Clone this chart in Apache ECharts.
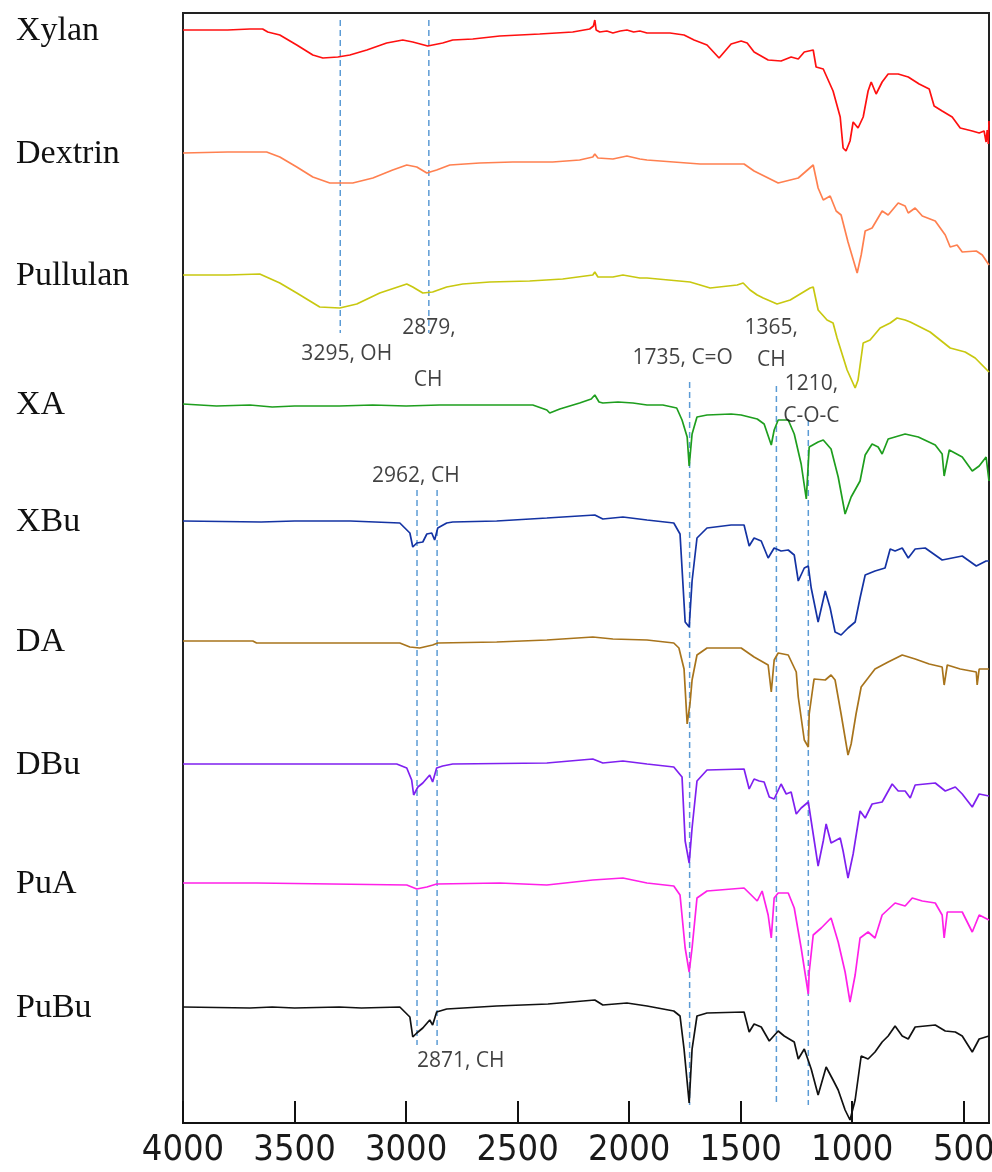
<!DOCTYPE html>
<html><head><meta charset="utf-8">
<script src="https://cdn.jsdelivr.net/npm/echarts@6/dist/echarts.min.js"></script>
<style>html,body{margin:0;padding:0;background:#fff}#c{width:992px;height:1172px}</style>
</head><body><div id="c"></div>
<script>
// ---- data (wavenumber cm-1, relative transmittance deflection in a.u.) ----
const sampleNames = ['Xylan','Dextrin','Pullulan','XA','XBu','DA','DBu','PuA','PuBu'];
const sampleColors = ['#FF1010','#FF8050','#C8C810','#1E9E1E','#1433A3','#A8741C','#7F20F0','#FF20E8','#111111'];
const offsets = [1093, 970, 848, 719, 602, 482, 359, 240, 116];
const tickLabels = [4000, 3500, 3000, 2500, 2000, 1500, 1000, 500];

const xylan = [[4000,0],[3800,0],[3700,1],[3643,1],[3620,-2],[3566,-5],[3490,-15],[3418,-25],[3373,-28],[3306,-27],[3252,-25],[3176,-20],[3087,-13],[3015,-10],[2970,-12],[2903,-16],[2836,-13],[2791,-10],[2701,-9],[2580,-6],[2401,-4],[2253,-2],[2177,1],[2160,4],[2154,10],[2148,0],[2132,-2],[2100,-1],[2073,-3],[2040,-1],[2010,0],[1980,-2],[1952,-1],[1920,-3],[1817,-3],[1754,-5],[1709,-10],[1651,-15],[1597,-28],[1543,-14],[1498,-11],[1471,-13],[1440,-22],[1377,-30],[1319,-31],[1274,-27],[1242,-29],[1215,-22],[1175,-20],[1162,-37],[1130,-39],[1086,-61],[1054,-87],[1041,-118],[1028,-121],[1010,-111],[996,-92],[974,-98],[951,-87],[929,-61],[915,-52],[893,-64],[866,-52],[839,-44],[794,-44],[749,-47],[700,-54],[655,-59],[633,-76],[597,-81],[552,-87],[516,-98],[462,-101],[431,-103],[409,-101],[400,-112],[395,-100],[390,-114],[387,-91]];
const dextrin = [[4000,0],[3800,1],[3625,1],[3566,-4],[3490,-14],[3418,-24],[3342,-30],[3239,-30],[3149,-25],[3060,-17],[2997,-12],[2952,-14],[2907,-20],[2863,-17],[2804,-12],[2670,-10],[2522,-9],[2343,-9],[2222,-7],[2163,-4],[2154,-1],[2140,-5],[2073,-6],[2010,-3],[1952,-6],[1920,-7],[1682,-11],[1575,-11],[1485,-11],[1440,-18],[1332,-30],[1242,-25],[1175,-12],[1153,-35],[1130,-47],[1099,-43],[1072,-58],[1050,-62],[1019,-89],[978,-120],[960,-102],[942,-78],[911,-75],[866,-58],[839,-62],[794,-50],[763,-53],[749,-60],[718,-55],[686,-63],[628,-68],[583,-82],[561,-94],[530,-92],[507,-99],[444,-98],[417,-102],[387,-112]];
const pullulan = [[4000,0],[3800,0],[3656,1],[3566,-8],[3490,-18],[3387,-32],[3297,-33],[3221,-29],[3118,-18],[2997,-9],[2970,-12],[2925,-18],[2881,-17],[2818,-12],[2746,-9],[2625,-7],[2446,-6],[2298,-4],[2163,0],[2154,3],[2140,-2],[2073,-2],[2028,0],[1952,-3],[1920,-3],[1727,-7],[1637,-13],[1516,-10],[1489,-8],[1458,-15],[1426,-20],[1399,-23],[1337,-29],[1278,-25],[1189,-13],[1175,-12],[1153,-35],[1113,-45],[1086,-48],[1068,-63],[1023,-95],[987,-113],[974,-105],[951,-68],[920,-65],[875,-53],[830,-48],[799,-43],[763,-45],[740,-47],[651,-57],[561,-73],[494,-77],[449,-83],[387,-97]];
const xa = [[4000,0],[3850,-2],[3700,-1],[3600,-3],[3500,-2],[3400,-2],[3300,-2],[3150,-1],[3000,-2],[2850,-1],[2700,-1],[2432,-1],[2369,-6],[2356,-9],[2311,-5],[2222,1],[2170,5],[2154,9],[2135,2],[2118,1],[2050,2],[1983,1],[1920,-1],[1849,-1],[1787,-4],[1763,-16],[1740,-33],[1731,-62],[1718,-30],[1696,-13],[1651,-11],[1543,-10],[1498,-11],[1426,-15],[1395,-20],[1363,-41],[1350,-26],[1332,-16],[1287,-16],[1260,-30],[1229,-60],[1206,-95],[1193,-43],[1153,-38],[1130,-36],[1095,-45],[1063,-73],[1032,-110],[1005,-93],[965,-77],[942,-51],[911,-40],[884,-43],[866,-50],[839,-35],[763,-30],[704,-33],[628,-41],[597,-50],[588,-72],[565,-46],[507,-53],[462,-67],[431,-62],[400,-53],[387,-77]];
const xbu = [[4000,0],[3650,-1],[3500,0],[3250,0],[3028,-2],[2983,-12],[2970,-26],[2952,-22],[2925,-21],[2907,-13],[2885,-12],[2872,-19],[2858,-7],[2818,-2],[2791,-1],[2594,0],[2369,3],[2154,6],[2118,2],[2028,4],[1920,1],[1800,-2],[1772,-13],[1749,-101],[1731,-106],[1718,-60],[1696,-17],[1651,-7],[1543,-4],[1485,-4],[1462,-25],[1440,-17],[1408,-20],[1377,-37],[1350,-27],[1319,-30],[1287,-29],[1260,-34],[1242,-60],[1215,-47],[1197,-45],[1184,-67],[1153,-101],[1121,-70],[1099,-87],[1077,-111],[1050,-114],[1019,-107],[987,-101],[965,-77],[942,-54],[898,-50],[853,-47],[830,-28],[808,-30],[776,-27],[749,-37],[718,-28],[673,-27],[597,-39],[507,-35],[444,-45],[400,-40],[387,-40]];
const da = [[4000,0],[3687,0],[3670,-2],[3028,-2],[2983,-6],[2939,-7],[2881,-4],[2858,-2],[2594,-1],[2369,1],[2163,4],[2073,2],[1920,1],[1800,-2],[1777,-7],[1754,-28],[1740,-83],[1727,-62],[1718,-39],[1696,-14],[1651,-7],[1498,-7],[1440,-16],[1377,-24],[1363,-51],[1350,-19],[1332,-12],[1287,-14],[1251,-31],[1242,-56],[1215,-99],[1197,-106],[1193,-73],[1175,-44],[1171,-38],[1121,-39],[1095,-34],[1077,-39],[1050,-73],[1019,-114],[1005,-103],[983,-73],[960,-46],[898,-28],[839,-21],[776,-14],[718,-18],[655,-23],[597,-26],[588,-44],[574,-24],[516,-28],[444,-31],[440,-44],[431,-28],[400,-28],[387,-28]];
const dbu = [[4000,0],[3042,0],[2997,-4],[2975,-16],[2966,-31],[2947,-23],[2925,-19],[2894,-11],[2881,-18],[2863,-4],[2836,-2],[2791,0],[2369,1],[2163,5],[2118,1],[2028,3],[1920,0],[1800,-3],[1763,-13],[1749,-77],[1731,-99],[1718,-64],[1696,-17],[1651,-6],[1485,-5],[1462,-25],[1440,-15],[1417,-17],[1395,-18],[1372,-33],[1350,-35],[1319,-20],[1296,-30],[1274,-28],[1251,-50],[1229,-44],[1197,-38],[1184,-57],[1153,-102],[1130,-77],[1117,-60],[1095,-79],[1054,-74],[1041,-87],[1019,-114],[996,-90],[965,-47],[942,-54],[911,-40],[866,-38],[821,-20],[794,-27],[763,-27],[740,-34],[718,-21],[628,-19],[583,-27],[538,-23],[507,-30],[462,-43],[431,-30],[387,-32]];
const pua = [[4000,0],[3670,0],[3664,-2],[2997,-2],[2952,-6],[2907,-4],[2863,-1],[2580,0],[2369,-2],[2163,3],[2028,5],[1920,0],[1800,-3],[1772,-12],[1749,-65],[1731,-89],[1718,-65],[1696,-15],[1651,-8],[1485,-5],[1453,-12],[1426,-18],[1404,-8],[1377,-32],[1363,-55],[1350,-15],[1332,-10],[1287,-10],[1260,-25],[1229,-65],[1197,-111],[1193,-89],[1175,-52],[1139,-45],[1095,-35],[1063,-59],[1032,-89],[1010,-119],[987,-92],[965,-55],[929,-49],[898,-55],[866,-32],[808,-20],[763,-23],[731,-15],[686,-18],[628,-20],[597,-32],[588,-55],[574,-29],[507,-29],[462,-49],[431,-32],[387,-37]];
const pubu = [[4000,0],[3700,-1],[3600,0],[3500,-1],[3300,0],[3200,-1],[3028,0],[2983,-10],[2970,-30],[2952,-26],[2925,-21],[2894,-13],[2881,-18],[2863,-5],[2818,-2],[2594,1],[2364,3],[2154,7],[2118,2],[2010,4],[1920,1],[1800,-4],[1772,-9],[1754,-42],[1731,-96],[1718,-42],[1696,-9],[1651,-6],[1485,-5],[1462,-25],[1440,-17],[1408,-20],[1372,-34],[1332,-24],[1305,-29],[1260,-35],[1242,-52],[1215,-42],[1184,-62],[1153,-88],[1117,-60],[1086,-73],[1063,-83],[1032,-103],[1010,-113],[987,-93],[960,-49],[929,-52],[898,-45],[866,-35],[839,-29],[808,-19],[776,-29],[749,-32],[718,-20],[628,-18],[583,-24],[538,-25],[507,-29],[462,-45],[431,-32],[387,-29]];
const spectra = [xylan, dextrin, pullulan, xa, xbu, da, dbu, pua, pubu];

// band marker lines: wavenumber and vertical extent (a.u. on the stacked scale)
const markerWn   = [3295, 2898, 2951, 2861, 1729, 1340, 1197];
const markerFrom = [1103, 1103, 633, 633, 741, 737, 703];
const markerTo   = [790, 790, 78, 78, 18, 18, 18];

// annotation texts and anchors
const annoText  = ['3295, OH', '2879,', 'CH', '1735, C=O', '1365,', 'CH', '1210,', 'C-O-C', '2962, CH', '2871, CH'];
const annoWn    = [3266, 2897, 2901, 1760, 1363, 1363, 1183, 1183, 2956, 2755];
const annoLevel = [769, 795, 743, 765, 795, 763, 739, 707, 647, 62];

// ---- chart ----
const chart = echarts.init(document.getElementById('c'), null, {renderer: 'canvas'});
const series = [];
markerWn.forEach((w, i) => {
  series.push({
    type: 'line', silent: true, symbol: 'none', z: 1,
    data: [[w, markerFrom[i]], [w, markerTo[i]]],
    lineStyle: {color: '#5B9BD5', width: 1.5, type: [6, 4]}
  });
});
spectra.forEach((s, i) => {
  series.push({
    name: sampleNames[i], type: 'line', symbol: 'none', showSymbol: false, z: 3,
    data: s.map(p => [p[0], offsets[i] + p[1]]),
    lineStyle: {color: sampleColors[i], width: 1.7},
    itemStyle: {color: sampleColors[i]}
  });
});
series.push({
  type: 'scatter', symbolSize: 0, silent: true, z: 5,
  data: annoText.map((t, i) => ({value: [annoWn[i], annoLevel[i]], name: t})),
  label: {show: true, position: 'inside', formatter: p => p.name,
          fontFamily: 'Open Sans', fontSize: 21, color: '#111'}
});

chart.setOption({
  animation: false,
  backgroundColor: '#fff',
  grid: {left: 183, right: 3, top: 13, bottom: 49, show: true, borderColor: '#222', borderWidth: 2,
         containLabel: false, outerBoundsMode: 'none'},
  xAxis: {
    type: 'value', min: 387, max: 4000, inverse: true,
    axisLine: {show: true, lineStyle: {color: '#111', width: 2}},
    axisTick: {show: true, inside: true, length: 22, lineStyle: {color: '#111', width: 2}, customValues: tickLabels},
    axisLabel: {customValues: tickLabels, formatter: v => String(v), showMinLabel: true, showMaxLabel: true, hideOverlap: false,
                fontFamily: 'Liberation Sans Narrow, Arial Narrow, DejaVu Sans Condensed, sans-serif',
                fontSize: 36, color: '#1a1a1a', margin: 10},
    splitLine: {show: false}
  },
  yAxis: {type: 'value', min: 0, max: 1110, show: false},
  series: series
});

// sample name labels at each spectrum's baseline
const g = sampleNames.map((n, i) => {
  const p = chart.convertToPixel({gridIndex: 0}, [4000, offsets[i]]);
  return {type: 'text', x: 16, y: p[1] + 1,
          style: {text: n, fontFamily: 'Liberation Serif, Times New Roman, serif', fontSize: 34,
                  fill: '#111', verticalAlign: 'middle', align: 'left'}};
});
chart.setOption({graphic: g});
</script></body></html>
